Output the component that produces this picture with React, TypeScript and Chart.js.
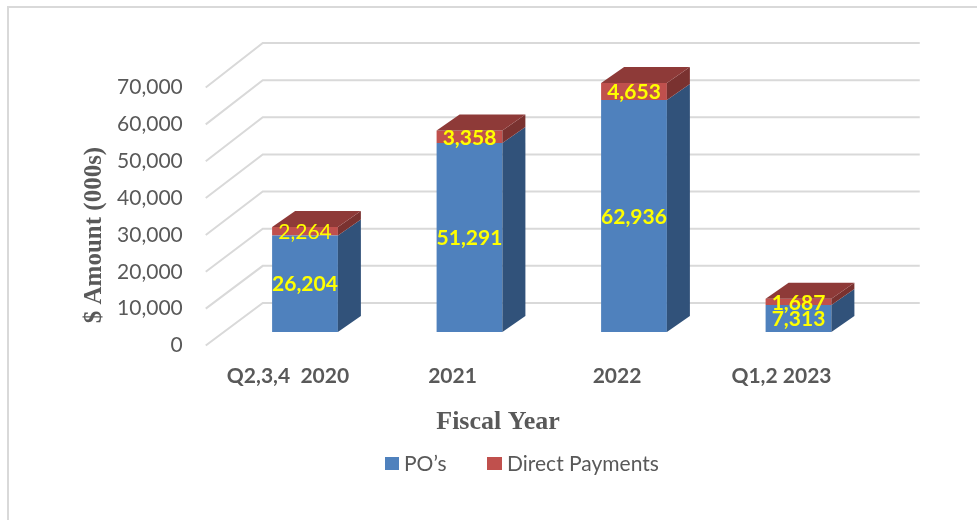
import React, { useEffect, useRef } from "react";
import { Chart, registerables } from "chart.js";

Chart.register(...registerables);

// ---- data ----
const categories = ["Q2,3,4  2020", "2021", "2022", "Q1,2 2023"];
const poValues = [26204, 51291, 62936, 7313];
const directPaymentValues = [2264, 3358, 4653, 1687];
const seriesNames = ["PO\u2019s", "Direct Payments"];
const yTickValues = [0, 10000, 20000, 30000, 40000, 50000, 60000, 70000];
const xAxisTitle = "Fiscal Year";
const yAxisTitle = "$ Amount (000s)";

// ---- style ----
const BLUE = "#4f81bd";
const BLUE_SIDE = "#31527a";
const RED = "#c0504d";
const RED_TOP = "#8e3a38";
const RED_SIDE = "#7a3230";
const GRID = "#d9d9d9";
const TEXT = "#595959";
const LABEL_YELLOW = "#ffff00";
const SANS = "Lato, 'Open Sans', sans-serif";
const SERIF = "'Liberation Serif', 'DejaVu Serif', serif";
const DX = 23;
const DY = -16;
const redLabelBold = [false, true, true, true];

const fmt = (v: number) => v.toLocaleString("en-US");

const fake3d = {
  id: "fake3d",
  beforeDraw(chart: any) {
    const { ctx } = chart;
    ctx.save();
    ctx.fillStyle = GRID;
    ctx.fillRect(7, 6, 970, 2);
    ctx.fillRect(7, 6, 2, 514);
    ctx.restore();
  },
  beforeDatasetsDraw(chart: any) {
    const { ctx, chartArea } = chart;
    const y = chart.scales.y;
    const zero = y.getPixelForValue(0);
    ctx.save();
    ctx.strokeStyle = GRID;
    ctx.lineWidth = 2;
    for (const v of yTickValues) {
      const fy = y.getPixelForValue(v);
      const by = zero - 29 - (zero - fy) * (260 / 258);
      ctx.beginPath();
      ctx.moveTo(chartArea.left - 17, fy + 13.5);
      ctx.lineTo(chartArea.left + 40, by);
      ctx.lineTo(chartArea.right + 39, by);
      ctx.stroke();
    }
    ctx.restore();
  },
  afterDatasetsDraw(chart: any) {
    const { ctx } = chart;
    const m0 = chart.getDatasetMeta(0).data;
    const m1 = chart.getDatasetMeta(1).data;
    ctx.save();
    const poly = (pts: number[][], color: string) => {
      ctx.beginPath();
      ctx.moveTo(pts[0][0], pts[0][1]);
      for (let k = 1; k < pts.length; k++) ctx.lineTo(pts[k][0], pts[k][1]);
      ctx.closePath();
      ctx.fillStyle = color;
      ctx.fill();
    };
    for (let i = 0; i < categories.length; i++) {
      const b = m0[i];
      const r = m1[i];
      const left = b.x - b.width / 2;
      const right = b.x + b.width / 2;
      poly(
        [
          [right, b.base],
          [right + DX, b.base + DY],
          [right + DX, b.y + DY],
          [right, b.y],
        ],
        BLUE_SIDE
      );
      poly(
        [
          [right, r.base],
          [right + DX, r.base + DY],
          [right + DX, r.y + DY],
          [right, r.y],
        ],
        RED_SIDE
      );
      poly(
        [
          [left, r.y],
          [left + DX, r.y + DY],
          [right + DX, r.y + DY],
          [right, r.y],
        ],
        RED_TOP
      );
    }
    ctx.fillStyle = LABEL_YELLOW;
    ctx.textAlign = "center";
    ctx.textBaseline = "middle";
    for (let i = 0; i < categories.length; i++) {
      const b = m0[i];
      const r = m1[i];
      ctx.font = `bold 21px ${SANS}`;
      ctx.fillText(fmt(poValues[i]), b.x, (b.y + b.base) / 2 + 1);
      ctx.font = `${redLabelBold[i] ? "bold " : ""}21px ${SANS}`;
      ctx.fillText(fmt(directPaymentValues[i]), r.x, (r.y + r.base) / 2 + 1);
    }
    ctx.restore();
  },
  afterDraw(chart: any) {
    const { ctx } = chart;
    const m0 = chart.getDatasetMeta(0).data;
    ctx.save();
    ctx.fillStyle = TEXT;
    ctx.textAlign = "center";
    ctx.textBaseline = "middle";
    ctx.font = `bold 21px ${SANS}`;
    categories.forEach((c, i) => {
      ctx.fillText(c, m0[i].x - 17, 376);
    });
    ctx.font = `bold 26px ${SERIF}`;
    ctx.fillText(xAxisTitle, 498, 422);
    ctx.save();
    ctx.translate(95, 235);
    ctx.rotate(-Math.PI / 2);
    ctx.font = `bold 25px ${SERIF}`;
    ctx.fillText(yAxisTitle, 0, 0);
    ctx.restore();
    // legend
    ctx.font = `21px ${SANS}`;
    ctx.textAlign = "left";
    ctx.fillStyle = BLUE;
    ctx.fillRect(385, 457, 14, 13);
    ctx.fillStyle = TEXT;
    ctx.fillText(seriesNames[0], 404, 464);
    ctx.fillStyle = RED;
    ctx.fillRect(487, 457, 15, 13);
    ctx.fillStyle = TEXT;
    ctx.fillText(seriesNames[1], 507, 464);
    ctx.restore();
  },
};

export default function App() {
  const ref = useRef<HTMLCanvasElement | null>(null);
  useEffect(() => {
    if (!ref.current) return;
    const chart = new Chart(ref.current, {
      type: "bar",
      data: {
        labels: categories,
        datasets: [
          { label: seriesNames[0], data: poValues, backgroundColor: BLUE, borderWidth: 0 },
          { label: seriesNames[1], data: directPaymentValues, backgroundColor: RED, borderWidth: 0 },
        ],
      },
      options: {
        animation: false,
        responsive: false,
        layout: { padding: { left: 0, top: 74, right: 96.25, bottom: 188 } },
        datasets: { bar: { categoryPercentage: 1, barPercentage: 0.4 } },
        plugins: { legend: { display: false }, tooltip: { enabled: false } },
        scales: {
          x: { stacked: true, display: false, offset: true },
          y: {
            stacked: true,
            min: 0,
            max: 70000,
            afterFit: (s: any) => {
              s.width = 222.75;
            },
            grid: { display: false, drawTicks: false },
            border: { display: false },
            ticks: {
              stepSize: 10000,
              padding: 40,
              labelOffset: 13.5,
              color: TEXT,
              font: { family: SANS, size: 21 },
              callback: (v: any) => fmt(Number(v)),
            },
          },
        },
      },
      plugins: [fake3d],
    });
    return () => chart.destroy();
  }, []);
  return (
    <div style={{ position: "absolute", left: 0, top: 0, width: 977, height: 520, background: "#fff" }}>
      <canvas ref={ref} width={977} height={520} style={{ display: "block" }} />
    </div>
  );
}
